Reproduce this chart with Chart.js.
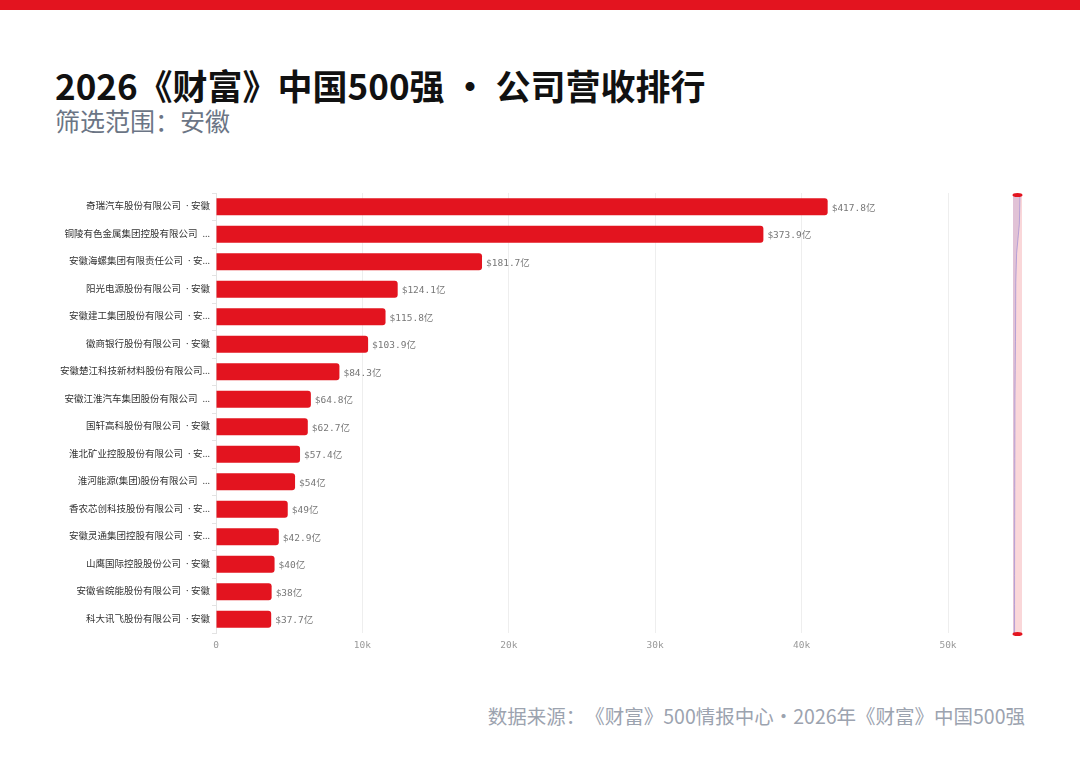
<!DOCTYPE html>
<html>
<head>
<meta charset="utf-8">
<script src="https://cdn.jsdelivr.net/npm/chart.js@4.4.1/dist/chart.umd.min.js"></script>
<style>
  html, body { margin: 0; padding: 0; background: #fff; }
  body { width: 1080px; height: 759px; position: relative; overflow: hidden; font-family: "Noto Sans CJK SC", "Noto Sans", sans-serif; text-spacing-trim: space-all; }
  .topbar { position: absolute; left: 0; top: 0; width: 1080px; height: 10px; background: #e3141f; }
  .title { position: absolute; left: 55px; top: 63px; font-size: 35px; font-weight: 700; color: #111; line-height: 44px; white-space: nowrap; }
  .subtitle { position: absolute; left: 55px; top: 104px; font-size: 25px; color: #6b7585; line-height: 32px; white-space: nowrap; }
  .source { position: absolute; right: 55px; top: 702px; font-size: 19.5px; color: #9ca3af; line-height: 28px; white-space: nowrap; }
  .wrap { position: absolute; left: 0; top: 0; width: 1080px; height: 759px; }
</style>
</head>
<body>
<div class="topbar"></div>
<div class="title">2026《财富》中国500强 · 公司营收排行</div>
<div class="subtitle">筛选范围：安徽</div>
<div class="source">数据来源：《财富》500情报中心・2026年《财富》中国500强</div>
<div class="wrap"><canvas id="rankChart"></canvas></div>

<script>
// company labels as shown on the axis (long ones are cut off in the original)
const companies = [
    '奇瑞汽车股份有限公司  · 安徽',
    '铜陵有色金属集团控股有限公司  …',
    '安徽海螺集团有限责任公司  · 安…',
    '阳光电源股份有限公司  · 安徽',
    '安徽建工集团股份有限公司  · 安…',
    '徽商银行股份有限公司  · 安徽',
    '安徽楚江科技新材料股份有限公司…',
    '安徽江淮汽车集团股份有限公司  …',
    '国轩高科股份有限公司  · 安徽',
    '淮北矿业控股股份有限公司  · 安…',
    '淮河能源(集团)股份有限公司  …',
    '香农芯创科技股份有限公司  · 安…',
    '安徽灵通集团控股有限公司  · 安…',
    '山鹰国际控股股份公司  · 安徽',
    '安徽省皖能股份有限公司  · 安徽',
    '科大讯飞股份有限公司  · 安徽'
];

// revenue (axis units), label shown as $xx亿
const revenue = [41780, 37390, 18170, 12410, 11580, 10390, 8430, 6480, 6270, 5740, 5400, 4900, 4290, 4000, 3800, 3770];
const revenueLabels = ['$417.8亿', '$373.9亿', '$181.7亿', '$124.1亿', '$115.8亿', '$103.9亿', '$84.3亿', '$64.8亿',
    '$62.7亿', '$57.4亿', '$54亿', '$49亿', '$42.9亿', '$40亿', '$38亿', '$37.7亿'];

const xTicks = ['0', '10k', '20k', '30k', '40k', '50k'];

const monoFont = '"DejaVu Sans Mono", "Noto Sans CJK SC", monospace';

// value text at the end of each bar
const valueLabels = {
    id: 'valueLabels',
    afterDatasetsDraw(chart) {
        const ctx = chart.ctx;
        const meta = chart.getDatasetMeta(0);
        ctx.save();
        ctx.font = '9.5px ' + monoFont;
        ctx.fillStyle = '#777';
        ctx.textAlign = 'left';
        ctx.textBaseline = 'middle';
        meta.data.forEach(function(bar, i) {
            ctx.fillText(revenueLabels[i], bar.x + 4, bar.y + 1.5);
        });
        ctx.restore();
    }
};

// vertical zoom slider on the right, with a data shadow
const sliderBar = {
    id: 'sliderBar',
    afterDraw(chart) {
        const ctx = chart.ctx;
        const left = 1013, right = 1022, top = 195, bottom = 634;
        const meta = chart.getDatasetMeta(0);
        const maxVal = Math.max.apply(null, revenue);
        ctx.save();
        ctx.fillStyle = 'rgba(227, 20, 31, 0.17)';
        ctx.fillRect(left, top, right - left, bottom - top);

        const pts = meta.data.map(function(bar, i) {
            const y = top + (bottom - top) * i / (revenue.length - 1);
            const x = left + 1 + (right - left - 3) * revenue[i] / maxVal;
            return { x: x, y: y };
        });
        ctx.beginPath();
        ctx.moveTo(left, top);
        pts.forEach(function(p) { ctx.lineTo(p.x, p.y); });
        ctx.lineTo(left, bottom);
        ctx.closePath();
        ctx.fillStyle = 'rgba(110, 100, 200, 0.18)';
        ctx.fill();

        ctx.beginPath();
        pts.forEach(function(p, i) {
            if (i === 0) ctx.moveTo(p.x, p.y); else ctx.lineTo(p.x, p.y);
        });
        ctx.strokeStyle = 'rgba(120, 110, 210, 0.6)';
        ctx.lineWidth = 0.8;
        ctx.stroke();

        ctx.fillStyle = '#e3141f';
        [top, bottom].forEach(function(y) {
            ctx.beginPath();
            ctx.ellipse((left + right) / 2, y, 5, 2, 0, 0, Math.PI * 2);
            ctx.fill();
        });
        ctx.restore();
    }
};

const ctx = document.getElementById('rankChart').getContext('2d');
new Chart(ctx, {
    type: 'bar',
    data: {
        labels: companies,
        datasets: [{
            data: revenue,
            backgroundColor: '#e3141f',
            borderRadius: { topRight: 3, bottomRight: 3, topLeft: 0, bottomLeft: 0 },
            borderSkipped: 'left',
            categoryPercentage: 1,
            barPercentage: 0.62
        }]
    },
    options: {
        indexAxis: 'y',
        responsive: true,
        maintainAspectRatio: false,
        animation: false,
        layout: { padding: { left: 0, top: 193, right: 132, bottom: 96 } },
        plugins: {
            legend: { display: false },
            tooltip: { enabled: false }
        },
        scales: {
            x: {
                min: 0,
                max: 50000,
                afterFit: function(scale) { scale.height = 30; },
                border: { display: false },
                grid: { color: '#eeeeee', drawTicks: false },
                ticks: {
                    stepSize: 10000,
                    padding: 7,
                    color: '#999',
                    font: { family: monoFont, size: 9.5 },
                    callback: function(value) { return xTicks[value / 10000]; }
                }
            },
            y: {
                afterFit: function(scale) { scale.width = 216; },
                border: { display: true, color: '#e3e3e3' },
                grid: { drawOnChartArea: false, tickLength: 4, color: '#e3e3e3', offset: true },
                ticks: {
                    padding: 2,
                    color: '#333',
                    autoSkip: false,
                    font: { family: '"Noto Sans", "Noto Sans CJK SC", sans-serif', size: 9.5 }
                }
            }
        }
    },
    plugins: [valueLabels, sliderBar]
});
</script>
</body>
</html>
